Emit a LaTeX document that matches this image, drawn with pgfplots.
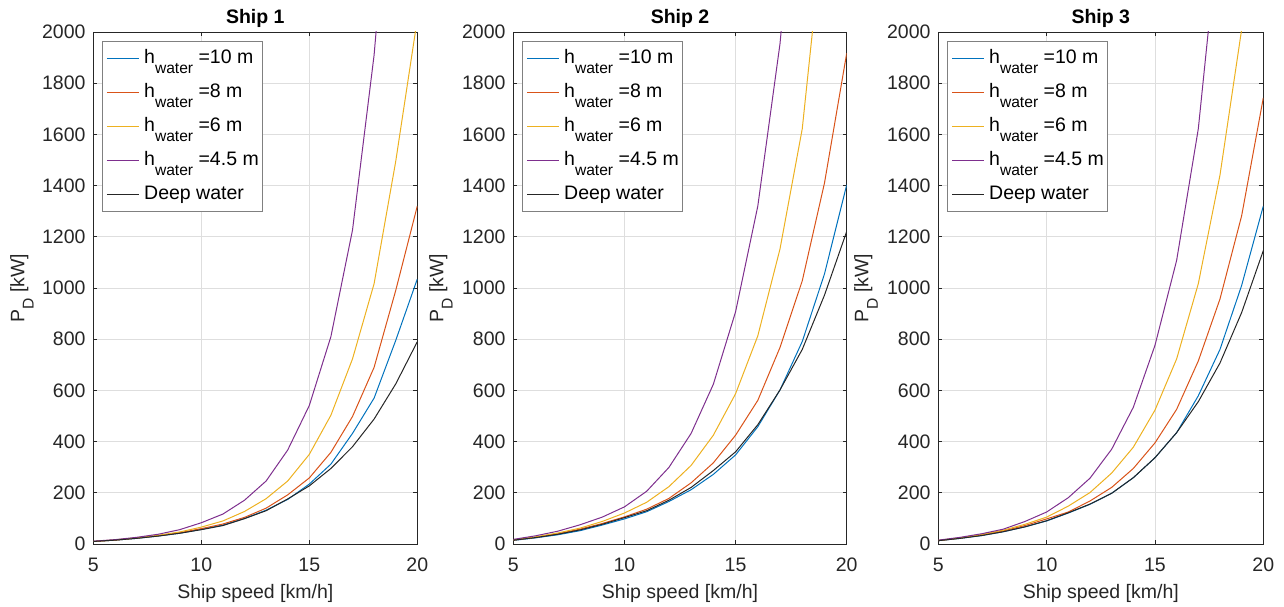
\documentclass[border=0pt]{standalone}
\usepackage{pgfplots}
\pgfplotsset{compat=1.18}
\usepackage{pgfplotstable}
\usepackage{fontspec}
\setmainfont{Liberation Sans}

\definecolor{c1}{rgb}{0,0.447,0.741}
\definecolor{c2}{rgb}{0.850,0.325,0.098}
\definecolor{c3}{rgb}{0.929,0.694,0.125}
\definecolor{c4}{rgb}{0.494,0.184,0.556}
\definecolor{axgray}{rgb}{0.15,0.15,0.15}
\definecolor{gridgray}{rgb}{0.87,0.87,0.87}

\newcommand{\fs}{\fontsize{9.75}{11.7}\selectfont}
\newcommand{\sub}[1]{\raisebox{-4.7pt}{\fontsize{7.8}{8}\selectfont #1}}
\newcommand{\hw}[1]{h\sub{water} =#1 m}

% columns: v, h10, h8, h6, h45, deep
\pgfplotstableread{
v   a     b     c     d     e
5   10    10    10    11    10
6   15    15    16    17    15
7   22    23    24    26    22
8   31    32    34    38    31
9   42    44    47    56    42
10  57    60    66    83    56
11  74    78    90    117   72
12  100   104   127   171   99
13  132   140   177   246   130
14  174   192   246   367   176
15  234   258   350   541   227
16  312   358   503   810   295
17  432   498   723   1226  380
18  570   690   1017  1910  488
19  795   990   1494  2900  625
20  1035  1320  2050  4000  790
}\shipA
\pgfplotstableread{
v   a     b     c     d     e
5   14    15    16    18    15
6   24    26    28    32    25
7   36    40    43    50    38
8   52    58    62    75    55
9   74    80    88    105   77
10  98    106   121   145   103
11  126   136   163   206   130
12  166   178   224   299   171
13  212   239   307   432   221
14  272   317   425   624   287
15  348   425   587   907   360
16  458   561   813   1320  466
17  602   768   1153  1955  602
18  791   1028  1622  2900  760
19  1055  1410  2450  4000  972
20  1403  1917  3500  5000  1221
}\shipB
\pgfplotstableread{
v   a     b     c     d     e
5   13    13    14    15    13
6   22    23    24    26    22
7   33    35    37    40    33
8   48    51    54    58    48
9   67    72    77    88    67
10  90    98    105   125   91
11  121   125   148   181   122
12  155   168   201   257   156
13  198   221   277   370   198
14  259   295   378   534   259
15  337   395   523   776   337
16  435   526   723   1108  435
17  579   715   1017  1622  556
18  760   957   1441  2450  707
19  1010  1282  2010  3500  904
20  1320  1743  2900  5000  1146
}\shipC

\pgfplotsset{
  every axis title/.style={font=\fs\bfseries, at={(0.5,1)}, anchor=base, yshift=4pt},
  shipaxis/.style={
    scale only axis, height=256pt, anchor=south west,
    xmin=5, xmax=20, ymin=0, ymax=2000,
    xtick={5,10,15,20}, ytick={0,200,...,2000},
    grid=major, major grid style={gridgray, line width=0.4pt},
    axis line style={axgray, line width=0.45pt},
    tick style={axgray, line width=0.45pt},
    tick align=inside, major tick length=2pt,
    tick label style={font=\fs, color=axgray},
    /pgf/number format/assume math mode=true,
    /pgf/number format/1000 sep={},
    scaled y ticks=false,
    xticklabel style={anchor=base, yshift=-13.85pt},
    yticklabel style={anchor=east, inner sep=0pt, xshift=-3.7pt},
    xlabel style={font=\fs, color=axgray, at={(axis description cs:0.5,0)}, anchor=base, yshift=-27.2pt},
    ylabel style={font=\fs, color=axgray, anchor=base},
    xlabel={Ship speed [km/h]},
    ylabel={P\sub{D} [kW]},
    every axis plot/.append style={line width=0.5pt},
    legend image code/.code={\draw[##1] (0pt,0pt) -- (16pt,0pt);},
    legend cell align=left,
    legend style={at={(0,1)}, anchor=north west, xshift=4.5pt, yshift=-4.35pt,
      draw=black!50, line width=0.4pt, fill=white, font=\fs,
      inner xsep=1.9pt, inner ysep=1.65pt, row sep=3pt, column sep=2.35pt,
      nodes={inner sep=0pt, text height=9.65pt, text depth=4.35pt}},
  }
}

\begin{document}
\begin{tikzpicture}
\useasboundingbox (0,0) rectangle (642pt,303pt);

\begin{axis}[shipaxis, at={(46.65pt,31pt)}, width=162pt, title={Ship 1},
  ylabel style={at={(axis description cs:-0.213,0.5)}}]
\addplot[c1] table[x=v,y=a] {\shipA};
\addplot[c2] table[x=v,y=b] {\shipA};
\addplot[c3] table[x=v,y=c] {\shipA};
\addplot[c4] table[x=v,y=d] {\shipA};
\addplot[black!85] table[x=v,y=e] {\shipA};
\legend{\hw{10},\hw{8},\hw{6},\hw{4.5},Deep water}
\end{axis}

\begin{axis}[shipaxis, at={(256.65pt,31pt)}, width=166.7pt, title={Ship 2},
  ylabel style={at={(axis description cs:-0.21,0.5)}}]
\addplot[c1] table[x=v,y=a] {\shipB};
\addplot[c2] table[x=v,y=b] {\shipB};
\addplot[c3] table[x=v,y=c] {\shipB};
\addplot[c4] table[x=v,y=d] {\shipB};
\addplot[black!85] table[x=v,y=e] {\shipB};
\legend{\hw{10},\hw{8},\hw{6},\hw{4.5},Deep water}
\end{axis}

\begin{axis}[shipaxis, at={(469.15pt,31pt)}, width=162.5pt, title={Ship 3},
  ylabel style={at={(axis description cs:-0.215,0.5)}}]
\addplot[c1] table[x=v,y=a] {\shipC};
\addplot[c2] table[x=v,y=b] {\shipC};
\addplot[c3] table[x=v,y=c] {\shipC};
\addplot[c4] table[x=v,y=d] {\shipC};
\addplot[black!85] table[x=v,y=e] {\shipC};
\legend{\hw{10},\hw{8},\hw{6},\hw{4.5},Deep water}
\end{axis}
\end{tikzpicture}
\end{document}
